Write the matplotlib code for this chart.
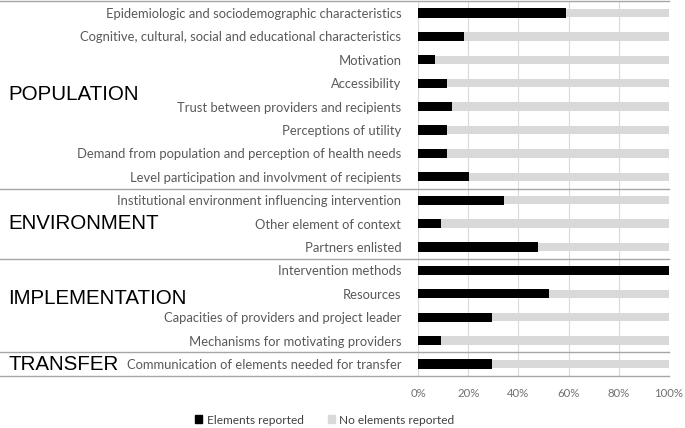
import matplotlib.pyplot as plt
from matplotlib.patches import Patch

# données (en %)
labels = [
    "Epidemiologic and sociodemographic characteristics",
    "Cognitive, cultural, social and educational characteristics",
    "Motivation",
    "Accessibility",
    "Trust between providers and recipients",
    "Perceptions of utility",
    "Demand from population and perception of health needs",
    "Level participation and involvment of recipients",
    "Institutional environment influencing intervention",
    "Other element of context",
    "Partners enlisted",
    "Intervention methods",
    "Resources",
    "Capacities of providers and project leader",
    "Mechanisms for motivating providers",
    "Communication of elements needed for transfer",
]
reported = [59.1, 18.2, 6.8, 11.4, 13.6, 11.4, 11.4, 20.5,
            34.1, 9.1, 47.7, 100.0, 52.3, 29.5, 9.1, 29.5]
not_reported = [100 - v for v in reported]

groups = ["POPULATION", "ENVIRONMENT", "IMPLEMENTATION", "TRANSFER"]
group_y = [3.5, 9.0, 12.2, 15.0]
separators = [-0.5, 7.5, 10.5, 14.5, 15.5]

fig = plt.figure(figsize=(6.85, 4.28), dpi=100)
ax = fig.add_axes([418 / 685, 1 - 375.7 / 428, 251 / 685, 374.4 / 428])

y = list(range(len(labels)))
ax.barh(y, not_reported, left=reported, height=0.36, color="#d9d9d9")
ax.barh(y, reported, height=0.40, color="black")

ax.set_xlim(0, 100)
ax.set_ylim(len(labels) - 0.5, -0.5)
ax.set_xticks([0, 20, 40, 60, 80, 100])
ax.set_xticklabels(["0%", "20%", "40%", "60%", "80%", "100%"],
                   fontsize=8.2, color="#707070", family="Lato")
ax.tick_params(axis="x", length=0, pad=9)
ax.set_yticks(y)
ax.set_yticklabels(labels, fontsize=9.4, color="#595959", family="Lato")
ax.tick_params(axis="y", length=0, pad=12)
ax.grid(axis="x", color="#d9d9d9", linewidth=0.8)
ax.set_axisbelow(True)
for s in ax.spines.values():
    s.set_visible(False)

# lignes de séparation
x0 = -418 / 251
tr = ax.get_yaxis_transform()
for b in separators:
    ax.plot([x0, 1], [b, b], transform=tr, clip_on=False,
            color="#a6a6a6", linewidth=1)

# titres des groupes
for g, gy in zip(groups, group_y):
    ax.text(x0 + 8 / 251, gy, g, transform=tr, fontsize=14.8,
            family="Liberation Sans", va="center", ha="left", color="black")

handles = [Patch(color="black", label="Elements reported"),
           Patch(color="#d9d9d9", label="No elements reported")]
fig.legend(handles=handles, loc="center", bbox_to_anchor=(0.474, 1 - 420 / 428),
           ncol=2, frameon=False, handlelength=0.6,
           handleheight=0.6, handletextpad=0.4, columnspacing=2.0,
           prop={"family": "Lato", "size": 8.6})
for t in fig.legends[0].get_texts():
    t.set_color("#404040")

fig.savefig("out.png", dpi=100)
